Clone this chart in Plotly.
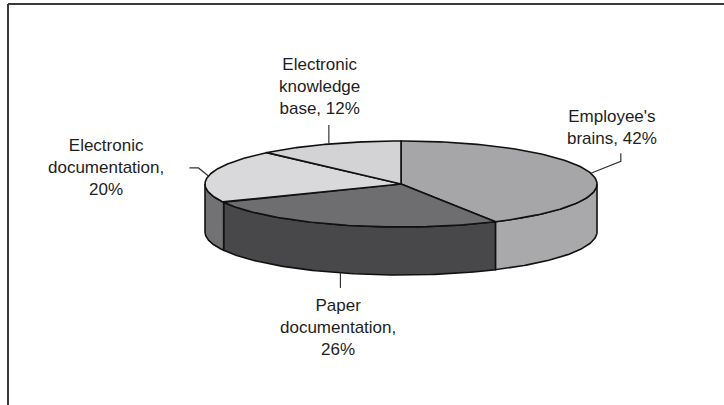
import numpy as np
import plotly.graph_objects as go

# ---- data ----
categories = ["Employee's<br>brains, 42%", "Paper<br>documentation,<br>26%",
              "Electronic<br>documentation,<br>20%", "Electronic<br>knowledge<br>base, 12%"]
shares = [42, 26, 20, 12]
top_colors = ["#a6a6a9", "#6e6e71", "#d9d9db", "#d3d3d5"]
side_colors = ["#a9a9ab", "#48484b", "#727275", "#9a9a9c"]

# ---- geometry (pixel space) ----
W, H = 724, 405
cx, cy, rx, ry, depth = 401, 184, 196, 43, 48


def pt(theta_deg, dy=0.0):
    t = np.radians(theta_deg)
    return cx + rx * np.sin(t), cy - ry * np.cos(t) + dy


fig = go.Figure()
total = float(sum(shares))
bounds = np.concatenate([[0], np.cumsum(shares)]) / total * 360.0

# side walls (front half only: 90..270 deg)
for i in range(len(shares)):
    a0, a1 = bounds[i], bounds[i + 1]
    s, e = max(a0, 90), min(a1, 270)
    if e <= s:
        continue
    th = np.linspace(s, e, 80)
    xt, yt = pt(th)
    xb, yb = pt(th[::-1], depth)
    xs = np.concatenate([xt, xb, [xt[0]]])
    ys = np.concatenate([yt, yb, [yt[0]]])
    fig.add_trace(go.Scatter(x=xs, y=ys, mode="lines", fill="toself",
                             fillcolor=side_colors[i],
                             line=dict(color="#111", width=1.6),
                             hoverinfo="skip", showlegend=False))

# top wedges
for i in range(len(shares)):
    a0, a1 = bounds[i], bounds[i + 1]
    th = np.linspace(a0, a1, 120)
    xa, ya = pt(th)
    xs = np.concatenate([[cx], xa, [cx]])
    ys = np.concatenate([[cy], ya, [cy]])
    fig.add_trace(go.Scatter(x=xs, y=ys, mode="lines", fill="toself",
                             fillcolor=top_colors[i],
                             line=dict(color="#111", width=1.6),
                             hoverinfo="skip", showlegend=False))

# labels with leader lines from slice mid-angles
mids = (bounds[:-1] + bounds[1:]) / 2
# (leader path offsets relative to rim point, label center offset)
leader = [
    [(0, 0), (30, -12), (30, -20)],
    [(0, 0), (0, 15)],
    [(0, 0), (-10, -8), (-19, -8)],
    [(0, 0), (0, -19)],
]
label_off = [(21, -46), (-2, 55), (-102, -8), (-9, -58)]
font = dict(family="Liberation Sans Narrow, Arial Narrow, sans-serif", size=17, color="#1e1e1e")
for i in range(len(shares)):
    th = mids[i]
    dy = depth if 90 < th < 270 else 0
    x0, y0 = pt(th, dy)
    lx = [x0 + p[0] for p in leader[i]]
    ly = [y0 + p[1] for p in leader[i]]
    fig.add_trace(go.Scatter(x=lx, y=ly, mode="lines",
                             line=dict(color="#333", width=1.2),
                             hoverinfo="skip", showlegend=False))
    fig.add_annotation(x=x0 + label_off[i][0], y=y0 + label_off[i][1],
                       text=categories[i], showarrow=False, font=font,
                       xanchor="center", yanchor="middle", align="center")

# frame (top and left edges)
fig.add_shape(type="line", x0=8, y0=4, x1=W, y1=4, line=dict(color="#3a3a3a", width=2))
fig.add_shape(type="line", x0=8, y0=4, x1=8, y1=H, line=dict(color="#3a3a3a", width=2))

fig.update_layout(
    width=W, height=H, margin=dict(l=0, r=0, t=0, b=0),
    paper_bgcolor="white", plot_bgcolor="white",
    xaxis=dict(range=[0, W], visible=False, fixedrange=True),
    yaxis=dict(range=[H, 0], visible=False, fixedrange=True),
)
fig.write_html("out.html")
